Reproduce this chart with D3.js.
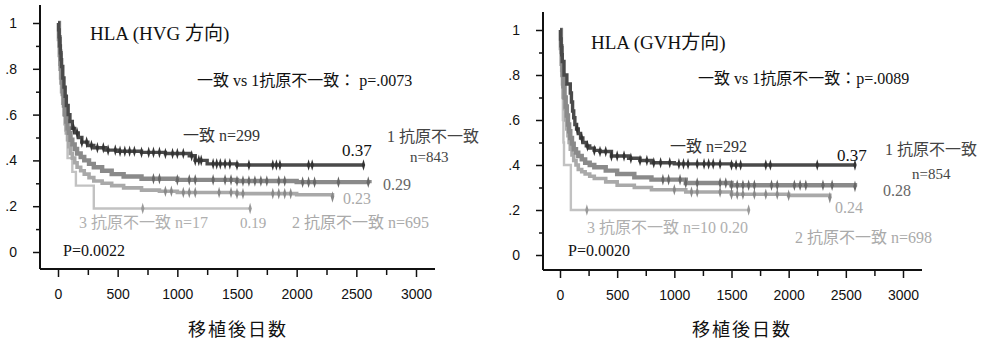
<!DOCTYPE html>
<html>
<head>
<meta charset="utf-8">
<script src="https://cdn.jsdelivr.net/npm/d3@7"></script>
<style>
  body { margin: 0; background: #fff; }
  svg { display: block; }
  text { font-family: "Liberation Serif", "Noto Sans CJK JP", serif; fill: #111; }
  .axis text { font-family: "Liberation Sans", Arial, sans-serif; font-size: 14px; }
  .axis line { stroke: #111; stroke-width: 1.5; }
  .xtitle { font-family: "Noto Sans CJK JP", sans-serif; font-size: 18px; letter-spacing: 2px; }
</style>
</head>
<body>
<svg id="chart" width="987" height="347"></svg>
<script>
// groups (HLA mismatch)
const groups = ["一致", "1抗原不一致", "2抗原不一致", "3抗原不一致"];
const yTicks = [0, 0.2, 0.4, 0.6, 0.8, 1];
const yTickLabels = ["0", ".2", ".4", ".6", ".8", "1"];
const yMinor = [0.1, 0.3, 0.5, 0.7, 0.9];
const xTicks = [0, 500, 1000, 1500, 2000, 2500, 3000];
const xMinor = [250, 750, 1250, 1750, 2250, 2750];

// HVG direction: [day, survival]
const hvgMatch = [[0,1],[5,0.97],[10,0.94],[15,0.9],[20,0.87],[25,0.84],[30,0.81],[40,0.76],[50,0.72],[60,0.68],[70,0.64],[85,0.6],[100,0.57],[120,0.54],[140,0.52],[170,0.5],[200,0.48],[250,0.465],[300,0.455],[400,0.445],[500,0.44],[700,0.435],[900,0.43],[1100,0.42],[1150,0.4],[1250,0.385],[1500,0.38],[2560,0.38]];
const hvgMis1 = [[0,1],[8,0.93],[15,0.86],[22,0.8],[30,0.74],[40,0.69],[50,0.64],[60,0.6],[70,0.57],[80,0.54],[90,0.52],[105,0.49],[120,0.47],[140,0.45],[160,0.43],[190,0.415],[220,0.4],[260,0.385],[300,0.37],[370,0.355],[450,0.34],[550,0.33],[700,0.32],[1000,0.315],[1500,0.31],[2000,0.305],[2610,0.3]];
const hvgMis2 = [[0,1],[8,0.9],[15,0.82],[22,0.76],[30,0.7],[40,0.65],[50,0.6],[60,0.56],[70,0.52],[80,0.49],[90,0.46],[105,0.43],[120,0.41],[140,0.39],[160,0.37],[190,0.355],[220,0.34],[260,0.325],[300,0.31],[370,0.3],[450,0.29],[550,0.28],[700,0.27],[850,0.265],[1000,0.26],[1500,0.255],[2000,0.25],[2300,0.24]];
const hvgMis3 = [[0,1],[15,0.88],[30,0.76],[45,0.65],[60,0.53],[80,0.41],[120,0.35],[150,0.29],[300,0.19],[1610,0.19]];

const hvgMatchCens = [130,160,200,240,280,330,380,420,480,520,560,600,640,700,760,800,850,900,960,1000,1050,1120,1150,1180,1200,1300,1330,1360,1400,1440,1500,1600,1800,1830,1860,2100,2130,2560];
const hvgMis1Cens = [800,850,1000,1100,1150,1300,1400,1450,1500,1550,1600,1650,1700,1750,1850,1900,2050,2100,2150,2350,2600];
const hvgMis2Cens = [900,950,1050,1100,1150,1350,1450,1500,1550,1800,1850,1900,1950,2300];
const hvgMis3Cens = [710,1610];

// GVH direction: [day, survival]
const gvhMatch = [[0,1],[5,0.96],[10,0.93],[15,0.89],[20,0.86],[35,0.8],[60,0.76],[90,0.72],[100,0.68],[110,0.64],[120,0.61],[130,0.58],[145,0.56],[160,0.54],[180,0.52],[200,0.5],[230,0.485],[260,0.475],[300,0.465],[350,0.46],[450,0.44],[600,0.43],[700,0.42],[800,0.41],[1000,0.405],[1500,0.4],[2580,0.4]];
const gvhMis1 = [[0,1],[8,0.92],[15,0.85],[22,0.8],[30,0.75],[40,0.7],[50,0.66],[60,0.62],[70,0.58],[80,0.55],[90,0.52],[105,0.495],[120,0.47],[140,0.455],[160,0.44],[190,0.425],[220,0.41],[260,0.4],[300,0.39],[400,0.375],[500,0.36],[650,0.345],[800,0.335],[1100,0.32],[1500,0.31],[2580,0.305]];
const gvhMis2 = [[0,1],[8,0.9],[15,0.82],[22,0.76],[30,0.7],[40,0.65],[50,0.6],[60,0.56],[70,0.53],[80,0.5],[90,0.47],[105,0.445],[120,0.42],[140,0.4],[160,0.38],[190,0.37],[220,0.36],[260,0.35],[300,0.34],[400,0.325],[500,0.31],[650,0.3],[800,0.29],[1100,0.28],[1500,0.27],[2000,0.265],[2360,0.255]];
const gvhMis3 = [[0,1],[10,0.9],[15,0.8],[20,0.7],[25,0.6],[30,0.5],[35,0.4],[95,0.2],[1650,0.2]];

const gvhMatchCens = [150,190,240,300,350,400,450,500,560,620,700,760,820,880,960,1040,1080,1120,1200,1260,1300,1340,1400,1500,1540,1580,1800,1840,2250,2580];
const gvhMis1Cens = [900,950,1050,1100,1200,1400,1450,1500,1550,1600,1650,1700,1850,1900,2050,2100,2150,2300,2380,2580];
const gvhMis2Cens = [1000,1150,1200,1400,1500,1550,1600,1700,1800,1900,2000,2360];
const gvhMis3Cens = [235,1650];

const svg = d3.select("#chart");

// styles per group (match, 1, 2, 3 mismatches)
const styles = [
  { color: "#4a4a4a", width: 3.4, mark: "#333" },
  { color: "#8a8a8a", width: 4.4, mark: "#666" },
  { color: "#a9a9a9", width: 3.6, mark: "#888" },
  { color: "#c2c2c2", width: 2.4, mark: "#999" }
];

function drawPanel(p) {
  const g = svg.append("g");
  const x = d3.scaleLinear().domain([0, 3000]).range([p.x0, p.x3000]);
  const y = d3.scaleLinear().domain([0, 1]).range([p.y0, p.y1]);

  // axes lines
  g.append("line").attr("x1", p.ax).attr("x2", p.ax).attr("y1", p.axTop).attr("y2", p.ay)
    .attr("stroke", "#111").attr("stroke-width", 2);
  g.append("line").attr("x1", p.ax).attr("x2", p.axRight).attr("y1", p.ay).attr("y2", p.ay)
    .attr("stroke", "#111").attr("stroke-width", 2);

  const yAxis = g.append("g").attr("class", "axis").attr("transform", `translate(${p.ax},0)`)
    .call(d3.axisLeft(y).tickValues(yTicks).tickSize(7).tickPadding(16)
      .tickFormat((d, i) => yTickLabels[i]));
  yAxis.select(".domain").remove();
  const yMin = g.append("g").attr("class", "axis").attr("transform", `translate(${p.ax},0)`)
    .call(d3.axisLeft(y).tickValues(yMinor).tickSize(4).tickFormat(""));
  yMin.select(".domain").remove();

  const xAxis = g.append("g").attr("class", "axis").attr("transform", `translate(0,${p.ay})`)
    .call(d3.axisBottom(x).tickValues(xTicks).tickSize(8).tickPadding(14).tickFormat(d3.format("d")));
  xAxis.select(".domain").remove();
  xAxis.selectAll("text").attr("dy", "0.6em");
  const xMin = g.append("g").attr("class", "axis").attr("transform", `translate(0,${p.ay})`)
    .call(d3.axisBottom(x).tickValues(xMinor).tickSize(6).tickFormat(""));
  xMin.select(".domain").remove();

  g.append("text").attr("class", "xtitle").attr("x", p.titleX).attr("y", 336)
    .attr("text-anchor", "middle").text("移植後日数");

  // curves, drawn from worst to best so the match curve is on top
  const line = d3.line().x(d => x(d[0])).y(d => y(d[1])).curve(d3.curveStepAfter);
  const diamond = d3.symbol().type(d3.symbolDiamond).size(12);
  for (let i = p.curves.length - 1; i >= 0; i--) {
    const data = p.curves[i];
    const st = styles[i];
    g.append("path").datum(data).attr("d", line).attr("fill", "none")
      .attr("stroke", st.color).attr("stroke-width", st.width);
    const surv = day => {
      let v = data[0][1];
      for (const d of data) if (d[0] <= day) v = d[1];
      return v;
    };
    g.selectAll(null).data(p.censors[i]).join("path")
      .attr("d", diamond)
      .attr("transform", d => `translate(${x(d)},${y(surv(d))}) scale(0.9,1.8)`)
      .attr("fill", st.mark);
  }

  // annotations
  for (const t of p.labels) {
    g.append("text").attr("x", t[0]).attr("y", t[1]).attr("font-size", t[3] || 15)
      .style("fill", t[4] || "#111").text(t[2]);
  }
}

drawPanel({
  x0: 58, x3000: 416, y0: 252, y1: 23,
  ax: 40, ay: 269, axTop: 5, axRight: 435, titleX: 238,
  curves: [hvgMatch, hvgMis1, hvgMis2, hvgMis3],
  censors: [hvgMatchCens, hvgMis1Cens, hvgMis2Cens, hvgMis3Cens],
  labels: [
    [90, 40, "HLA (HVG 方向)", 19],
    [197, 86, groups[0] + " vs  1抗原不一致： p=.0073", 16],
    [183, 141, groups[0] + "  n=299", 16, "#333"],
    [342, 156, "0.37", 17],
    [387, 142, "1 抗原不一致", 16, "#444"],
    [410, 162, "n=843", 15, "#444"],
    [383, 190, "0.29", 16, "#666"],
    [343, 204, "0.23", 16, "#aaa"],
    [79, 228, "3 抗原不一致  n=17", 16, "#b0b0b0"],
    [240, 228, "0.19", 15, "#aaa"],
    [292, 228, "2 抗原不一致  n=695", 16, "#aaa"],
    [63, 256, "P=0.0022", 16]
  ]
});

drawPanel({
  x0: 560, x3000: 903, y0: 255, y1: 30,
  ax: 543, ay: 270, axTop: 12, axRight: 922, titleX: 742,
  curves: [gvhMatch, gvhMis1, gvhMis2, gvhMis3],
  censors: [gvhMatchCens, gvhMis1Cens, gvhMis2Cens, gvhMis3Cens],
  labels: [
    [591, 49, "HLA (GVH方向)", 19],
    [698, 84, groups[0] + " vs  1抗原不一致：p=.0089", 16],
    [670, 152, groups[0] + "  n=292", 16, "#333"],
    [837, 161, "0.37", 17],
    [885, 155, "1 抗原不一致", 16, "#444"],
    [912, 179, "n=854", 15, "#444"],
    [883, 196, "0.28", 16, "#666"],
    [835, 213, "0.24", 16, "#aaa"],
    [587, 233, "3 抗原不一致 n=10  0.20", 16, "#b0b0b0"],
    [795, 243, "2 抗原不一致 n=698", 16, "#aaa"],
    [568, 256, "P=0.0020", 16]
  ]
});
</script>
</body>
</html>
